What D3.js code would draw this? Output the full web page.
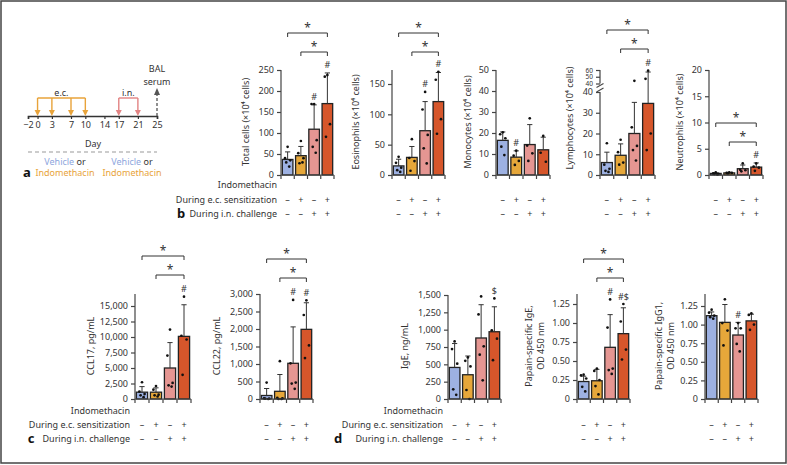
<!DOCTYPE html>
<html><head><meta charset="utf-8">
<script src="https://cdn.jsdelivr.net/npm/d3@7"></script>
<style>
body{margin:0;background:#fff}
svg{display:block}
text{font-family:"Noto Sans",sans-serif;fill:#333}
</style>
</head><body>
<svg id="fig" width="787" height="465"></svg>
<script>
// ---------- DATA ----------
const categories = ["Veh/Veh", "Indo/Veh", "Veh/Indo", "Indo/Indo"];
const ecSigns = ["\u2013", "+", "\u2013", "+"];
const inSigns = ["\u2013", "\u2013", "+", "+"];
const rowLabels = ["Indomethacin", "During e.c. sensitization", "During i.n. challenge"];

// panel a timeline
const timelineDays = [-2, 0, 3, 7, 10, 14, 17, 21, 25];
const ecDays = [0, 3, 7, 10];
const inDays = [17, 21];
const sampleDay = 25;

// panel b
const totalMean = [37, 46, 109, 170];
const totalSD = [18, 22, 58, 73];
const totalPts = [[67, 40, 35, 30, 20], [81, 52, 40, 28, 30], [169, 169, 83, 67, 53], [238, 234, 121, 91]];
const totalMarks = ["", "", "#", "#"];
const totalTicks = [0, 50, 100, 150, 200, 250];

const eosMean = [15, 29, 73, 121];
const eosSD = [11, 18, 48, 48];
const eosPts = [[30, 20, 12, 8, 5], [59, 28, 23, 7], [137, 108, 66, 44, 19], [170, 157, 92, 68]];
const eosMarks = ["", "", "#", "#"];
const eosTicks = [0, 50, 100, 150];

const monoMean = [16.5, 8.5, 14.5, 12];
const monoSD = [4, 3, 9.5, 6];
const monoPts = [[20.3, 19.4, 17.5, 13.5, 9.5], [11.6, 9.2, 6.7, 4.8], [27, 14, 10.3, 6.7], [18.6, 10.6, 6.3]];
const monoMarks = ["", "#", "", ""];
const monoTicks = [0, 10, 20, 30, 40, 50];

const lymMean = [6, 9.5, 20, 34.5];
const lymSD = [5, 5.5, 15, 22.5];
const lymPts = [[15.3, 5, 3, 2, 1.5], [17, 11, 6, 5], [44, 23, 14, 12, 7], [59, 47, 20, 12]];
const lymMarks = ["", "", "", "#"];
const lymTicksLow = [0, 10, 20, 30, 40];
const lymTicksHigh = [40, 50, 60];

const neuMean = [0.3, 0.4, 1.2, 1.5];
const neuSD = [0.1, 0.1, 0.7, 0.8];
const neuPts = [[0.5, 0.3, 0.2, 0.2, 0.1], [0.5, 0.4, 0.4, 0.3], [2.2, 1.0, 0.9, 0.7], [2.2, 1.6, 1.4, 0.8]];
const neuMarks = ["", "", "", "#"];
const neuTicks = [0, 5, 10, 15, 20];

// panel c
const ccl17Mean = [1100, 1100, 5000, 10100];
const ccl17SD = [900, 700, 4100, 5100];
const ccl17Pts = [[2700, 1200, 800, 600, 300], [2100, 1500, 700, 600, 400], [11200, 7000, 2600, 2200, 2000], [16500, 10200, 9600, 3900]];
const ccl17Marks = ["", "", "", "#"];
const ccl17Ticks = [0, 2500, 5000, 7500, 10000, 12500, 15000];

const ccl22Mean = [100, 220, 1020, 1990];
const ccl22SD = [200, 480, 1040, 760];
const ccl22Pts = [[470, 20, 10, 10, 0], [1080, 30, 20, 0, 0], [2830, 1020, 470, 440, 290], [2820, 2400, 1530, 1170]];
const ccl22Marks = ["", "", "#", "#"];
const ccl22Ticks = [0, 500, 1000, 1500, 2000, 2500, 3000];

// panel d
const igeMean = [455, 350, 880, 970];
const igeSD = [345, 270, 480, 360];
const igePts = [[830, 720, 510, 140, 60], [600, 550, 470, 130, 0], [1480, 1220, 760, 640, 270], [1450, 990, 870, 560]];
const igeMarks = ["", "", "", "$"];
const igeTicks = [0, 250, 500, 750, 1000, 1250, 1500];

const pigeMean = [0.23, 0.24, 0.68, 0.86];
const pigeSD = [0.07, 0.15, 0.43, 0.34];
const pigePts = [[0.32, 0.31, 0.27, 0.16, 0.10], [0.40, 0.37, 0.25, 0.17, 0.06], [1.31, 0.94, 0.40, 0.38, 0.33], [1.25, 1.02, 0.65, 0.52]];
const pigeMarks = ["", "", "#", "#$"];
const odTicks = [0, 0.25, 0.5, 0.75, 1.0, 1.25];

const igg1Mean = [1.12, 1.03, 0.86, 1.05];
const igg1SD = [0.05, 0.24, 0.17, 0.09];
const igg1Pts = [[1.20, 1.16, 1.12, 1.10, 1.08], [1.34, 1.02, 0.92, 0.72], [1.02, 0.95, 0.95, 0.74, 0.64], [1.15, 1.13, 1.00, 0.93]];
const igg1Marks = ["", "", "#", ""];

const sigPairs = [[0, 3], [1, 3]];

// ---------- STYLE ----------
const barColors = ["#9DB1E2", "#E6A73A", "#E59692", "#D6562B"];
const ink = "#333";
const orange = "#E8A33A";
const pinkArrow = "#E28383";
const vehBlue = "#8EA6DD";

const svg = d3.select("#fig");
svg.append("rect").attr("x", 1).attr("y", 1).attr("width", 785).attr("height", 462)
  .attr("fill", "none").attr("stroke", "#444").attr("stroke-width", 1.5);

const FS = 9;
const jitter = [0, -2.6, 2.6, -1.4, 1.6];

function label(x, y, txt, opts = {}) {
  const t = svg.append("text").attr("x", x).attr("y", y).text(txt)
    .attr("font-size", opts.size || FS)
    .attr("text-anchor", opts.anchor || "middle")
    .attr("dominant-baseline", "central");
  if (opts.weight) t.attr("font-weight", opts.weight);
  if (opts.fill) t.style("fill", opts.fill);
  return t;
}

function chart(cfg) {
  const g = svg.append("g");
  const xb = d3.scaleBand().domain(categories).range([cfg.x0, cfg.x1]).paddingInner(0.2).paddingOuter(0.1);
  const y = cfg.y;
  const y0 = y(0);
  const bw = xb.bandwidth();
  const cx = i => xb(categories[i]) + bw / 2;

  g.selectAll("rect.bar").data(cfg.mean).join("rect")
    .attr("x", (d, i) => xb(categories[i])).attr("y", d => y(d))
    .attr("width", bw).attr("height", d => y0 - y(d))
    .attr("fill", (d, i) => barColors[i]).attr("stroke", "#222").attr("stroke-width", 1.3);
  cfg.mean.forEach((m, i) => {
    const top = y(m + cfg.sd[i]);
    g.append("line").attr("x1", cx(i)).attr("x2", cx(i)).attr("y1", y(m)).attr("y2", top)
      .attr("stroke", ink).attr("stroke-width", 1);
    g.append("line").attr("x1", cx(i) - 2.6).attr("x2", cx(i) + 2.6).attr("y1", top).attr("y2", top)
      .attr("stroke", ink).attr("stroke-width", 1);
  });
  cfg.pts.forEach((arr, i) => {
    g.selectAll(null).data(arr).join("circle")
      .attr("cx", (d, j) => cx(i) + jitter[j % jitter.length])
      .attr("cy", d => y(d)).attr("r", 1.35).attr("fill", "#111");
  });
  cfg.marks.forEach((mk, i) => {
    if (!mk) return;
    const hi = Math.max(cfg.mean[i] + cfg.sd[i], d3.max(cfg.pts[i]));
    label(cx(i), y(hi) - 8, mk, { size: 9 });
  });
  const axes = cfg.axes || [{ scale: y, ticks: cfg.ticks }];
  axes.forEach(a => {
    const ax = g.append("g").attr("transform", `translate(${cfg.x0},0)`)
      .call(d3.axisLeft(a.scale).tickValues(a.ticks).tickSize(4).tickPadding(3).tickFormat(cfg.fmt));
    ax.select(".domain").remove();
    ax.selectAll("line").attr("stroke", "#444").attr("stroke-width", 1.2);
    ax.selectAll("text").attr("font-size", a.size || FS).attr("font-family", "Noto Sans").style("fill", ink);
  });
  (cfg.segments || [[y0, cfg.top]]).forEach(s => {
    g.append("line").attr("x1", cfg.x0).attr("x2", cfg.x0).attr("y1", s[0]).attr("y2", s[1])
      .attr("stroke", "#444").attr("stroke-width", 1.2);
  });
  if (cfg.breakAt) {
    cfg.breakAt.forEach(by => {
      g.append("line").attr("x1", cfg.x0 - 3.5).attr("x2", cfg.x0 + 3.5).attr("y1", by + 2).attr("y2", by - 2)
        .attr("stroke", "#444").attr("stroke-width", 1.1);
    });
  }
  g.append("line").attr("x1", cfg.x0).attr("x2", cfg.x1).attr("y1", y0).attr("y2", y0)
    .attr("stroke", "#444").attr("stroke-width", 1.2);
  d3.range(5).forEach(k => {
    const xx = cfg.x0 + k * xb.step();
    g.append("line").attr("x1", xx).attr("x2", xx).attr("y1", y0).attr("y2", y0 + 4)
      .attr("stroke", "#444").attr("stroke-width", 1.2);
  });
  const tl = Array.isArray(cfg.title) ? cfg.title : [cfg.title];
  tl.forEach((t, k) => {
    svg.append("text").attr("transform", `translate(${cfg.titleX + k * 12},${cfg.titleY}) rotate(-90)`)
      .attr("text-anchor", "middle").attr("dominant-baseline", "central")
      .attr("font-size", FS).text(t);
  });
  categories.forEach((c, i) => {
    label(cx(i), cfg.signY[0], ecSigns[i]);
    label(cx(i), cfg.signY[1], inSigns[i]);
  });
  if (cfg.sigY) {
    sigPairs.forEach((p, k) => {
      const by = cfg.sigY[k];
      const xa = cx(p[0]), xz = cx(p[1]);
      g.append("path").attr("d", `M${xa},${by + 4}V${by}H${xz}V${by + 4}`)
        .attr("fill", "none").attr("stroke", ink).attr("stroke-width", 1);
      svg.append("text").attr("x", (xa + xz) / 2).attr("y", by - 1).attr("text-anchor", "middle")
        .attr("font-size", 12).text("*");
    });
  }
}

const lin = (max, y0, yMax) => d3.scaleLinear().domain([0, max]).range([y0, yMax]);
const fmtInt = d3.format(",");
const fmtOD = d => d === 0 ? "0" : d3.format(".2f")(d);

// ---------- PANEL b ----------
const bSign = [199, 213];
chart({ x0: 281, x1: 334, y: lin(250, 175, 70), ticks: totalTicks, top: 70, fmt: fmtInt,
  mean: totalMean, sd: totalSD, pts: totalPts, marks: totalMarks, sigY: [33, 52],
  title: "Total cells (\u00d710\u2074 cells)", titleX: 245, titleY: 122, signY: bSign });
chart({ x0: 392, x1: 445, y: lin(150, 175, 84), ticks: eosTicks, top: 70, fmt: fmtInt,
  mean: eosMean, sd: eosSD, pts: eosPts, marks: eosMarks, sigY: [33, 52],
  title: "Eosinophils (\u00d710\u2074 cells)", titleX: 355, titleY: 122, signY: bSign });
chart({ x0: 496, x1: 550, y: lin(50, 175, 70), ticks: monoTicks, top: 70, fmt: fmtInt,
  mean: monoMean, sd: monoSD, pts: monoPts, marks: monoMarks,
  title: "Monocytes (\u00d710\u2074 cells)", titleX: 467, titleY: 122, signY: bSign });
const lymLow = d3.scaleLinear().domain([0, 40]).range([175, 92]);
const lymHigh = d3.scaleLinear().domain([40, 60]).range([83.5, 70]);
const lymY = v => v <= 40 ? lymLow(v) : lymHigh(v);
chart({ x0: 600, x1: 655, y: lymY, fmt: fmtInt,
  axes: [{ scale: lymLow, ticks: lymTicksLow }, { scale: lymHigh, ticks: lymTicksHigh, size: 6.5 }],
  segments: [[175, 92], [83.5, 70]], breakAt: [85.5, 90],
  mean: lymMean, sd: lymSD, pts: lymPts, marks: lymMarks, sigY: [30, 49],
  title: "Lymphocytes (\u00d710\u2074 cells)", titleX: 569, titleY: 118, signY: bSign });
chart({ x0: 709, x1: 763, y: lin(20, 175, 70), ticks: neuTicks, top: 70, fmt: fmtInt,
  mean: neuMean, sd: neuSD, pts: neuPts, marks: neuMarks, sigY: [123, 142],
  title: "Neutrophils (\u00d710\u2074 cells)", titleX: 679, titleY: 122, signY: bSign });

label(277, 184, rowLabels[0], { anchor: "end" });
label(277, 199, rowLabels[1], { anchor: "end" });
label(277, 213, rowLabels[2], { anchor: "end" });
label(181, 213, "b", { size: 13, weight: "bold", fill: "#111" });

// ---------- PANEL c ----------
const cSign = [424, 438];
chart({ x0: 135, x1: 191, y: lin(15000, 399, 306), ticks: ccl17Ticks, top: 294, fmt: fmtInt,
  mean: ccl17Mean, sd: ccl17SD, pts: ccl17Pts, marks: ccl17Marks, sigY: [256, 275],
  title: "CCL17, pg/mL", titleX: 90, titleY: 346, signY: cSign });
chart({ x0: 260, x1: 313, y: lin(3000, 399, 294), ticks: ccl22Ticks, top: 294, fmt: fmtInt,
  mean: ccl22Mean, sd: ccl22SD, pts: ccl22Pts, marks: ccl22Marks, sigY: [259, 278],
  title: "CCL22, pg/mL", titleX: 216, titleY: 346, signY: cSign });
label(130, 410, rowLabels[0], { anchor: "end" });
label(130, 424, rowLabels[1], { anchor: "end" });
label(130, 438, rowLabels[2], { anchor: "end" });
label(31, 438, "c", { size: 13, weight: "bold", fill: "#111" });

// ---------- PANEL d ----------
chart({ x0: 448, x1: 501, y: lin(1500, 399, 295), ticks: igeTicks, top: 295, fmt: fmtInt,
  mean: igeMean, sd: igeSD, pts: igePts, marks: igeMarks,
  title: "IgE, ng/mL", titleX: 404, titleY: 346, signY: cSign });
chart({ x0: 577, x1: 630, y: lin(1.25, 399, 304), ticks: odTicks, top: 294, fmt: fmtOD,
  mean: pigeMean, sd: pigeSD, pts: pigePts, marks: pigeMarks, sigY: [259, 278],
  title: ["Papain-specific IgE,", "OD 450 nm"], titleX: 528, titleY: 346, signY: cSign });
chart({ x0: 705, x1: 758, y: lin(1.25, 399, 306), ticks: odTicks, top: 294, fmt: fmtOD,
  mean: igg1Mean, sd: igg1SD, pts: igg1Pts, marks: igg1Marks,
  title: ["Papain-specific IgG1,", "OD 450 nm"], titleX: 658, titleY: 346, signY: cSign });
label(443, 410, rowLabels[0], { anchor: "end" });
label(443, 424, rowLabels[1], { anchor: "end" });
label(443, 438, rowLabels[2], { anchor: "end" });
label(338, 438, "d", { size: 13, weight: "bold", fill: "#111" });

// ---------- PANEL a ----------
const tx = d3.scaleLinear().domain([-2, 25]).range([28, 157]);
const lineY = 116, brY = 98;
const ta = svg.append("g").attr("transform", `translate(0,${lineY})`)
  .call(d3.axisBottom(tx).tickValues(timelineDays).tickSize(3).tickPadding(3));
ta.select(".domain").attr("stroke", ink).attr("stroke-width", 1.6);
ta.selectAll("line").attr("stroke", ink).attr("stroke-width", 1.2);
ta.selectAll("text").attr("font-size", FS).attr("font-family", "Noto Sans").style("fill", ink);
label(93, 143, "Day");

function arrowDown(x, color) {
  svg.append("line").attr("x1", x).attr("x2", x).attr("y1", brY).attr("y2", lineY - 5)
    .attr("stroke", color).attr("stroke-width", 1.4);
  svg.append("path").attr("d", `M${x - 3},${lineY - 6}L${x + 3},${lineY - 6}L${x},${lineY}Z`).attr("fill", color);
}
svg.append("line").attr("x1", tx(ecDays[0])).attr("x2", tx(ecDays[ecDays.length - 1]))
  .attr("y1", brY).attr("y2", brY).attr("stroke", orange).attr("stroke-width", 1.4);
ecDays.forEach(d => arrowDown(tx(d), orange));
svg.append("line").attr("x1", tx(inDays[0])).attr("x2", tx(inDays[inDays.length - 1]))
  .attr("y1", brY).attr("y2", brY).attr("stroke", pinkArrow).attr("stroke-width", 1.4);
inDays.forEach(d => arrowDown(tx(d), pinkArrow));
label((tx(ecDays[0]) + tx(ecDays[3])) / 2, 92, "e.c.");
label((tx(inDays[0]) + tx(inDays[1])) / 2, 92, "i.n.");
const sx = tx(sampleDay);
svg.append("line").attr("x1", sx).attr("x2", sx).attr("y1", lineY).attr("y2", 94)
  .attr("stroke", "#555").attr("stroke-width", 1.3).attr("stroke-dasharray", "3,2");
svg.append("path").attr("d", `M${sx - 3},${95}L${sx + 3},${95}L${sx},${88}Z`).attr("fill", "#555");
label(sx, 68, "BAL");
label(sx, 81, "serum");
svg.append("line").attr("x1", 28).attr("x2", 157).attr("y1", 152).attr("y2", 152)
  .attr("stroke", "#999").attr("stroke-width", 1.2).attr("stroke-dasharray", "4,3");
[65, 132].forEach(cxx => {
  const t = svg.append("text").attr("x", cxx).attr("y", 161).attr("text-anchor", "middle")
    .attr("dominant-baseline", "central").attr("font-size", FS);
  t.append("tspan").text("Vehicle").style("fill", vehBlue);
  t.append("tspan").text(" or").style("fill", ink);
  label(cxx, 172, "Indomethacin", { fill: orange });
});
label(27, 172, "a", { size: 13, weight: "bold", fill: "#111" });
</script>
</body></html>
